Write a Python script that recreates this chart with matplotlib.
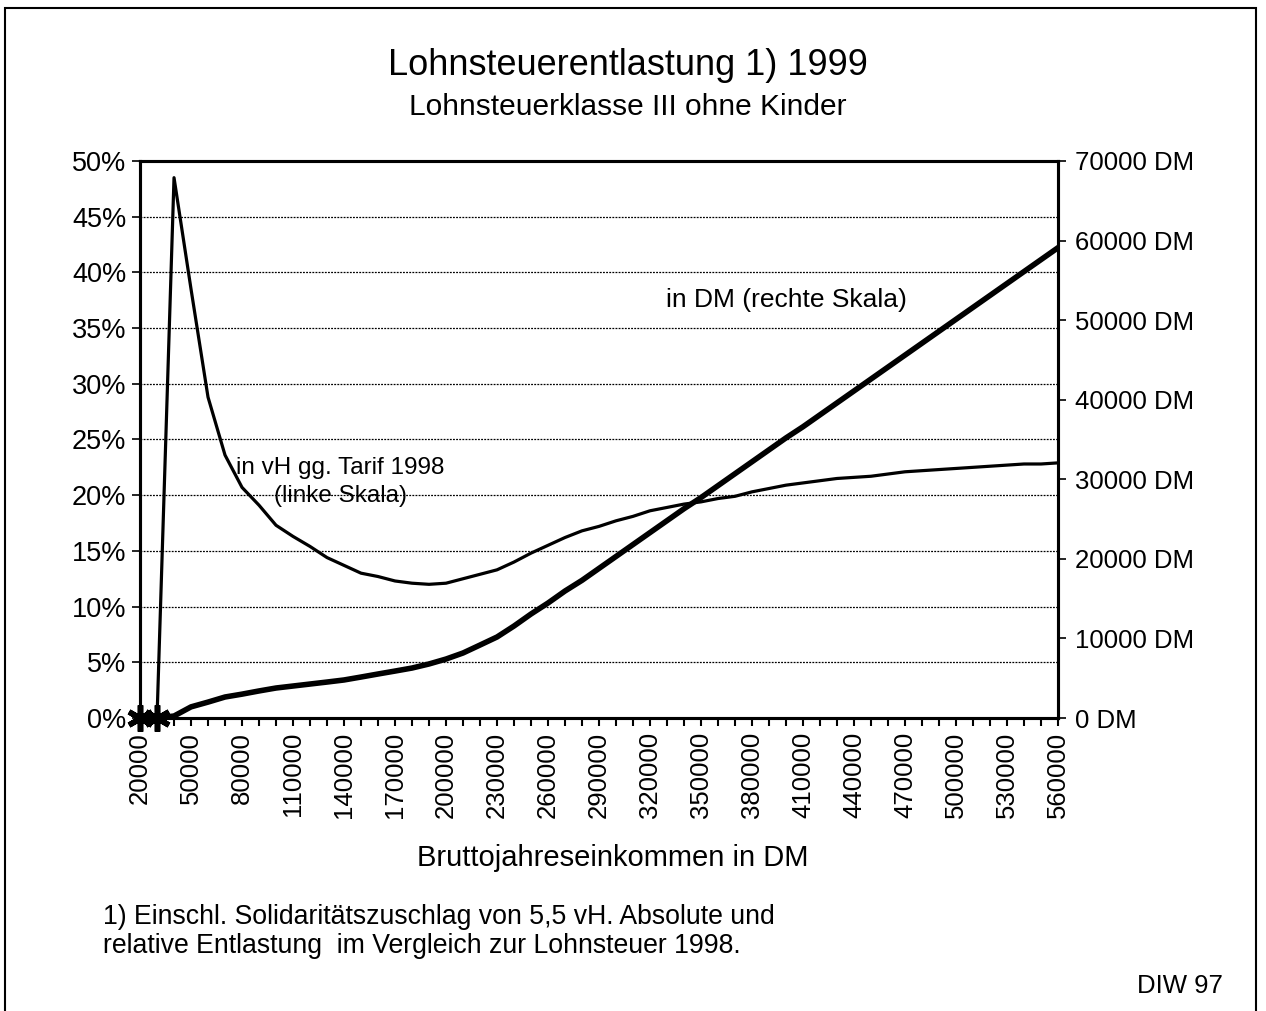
import matplotlib
matplotlib.use("Agg")
import matplotlib.pyplot as plt
from matplotlib.patches import Rectangle

plt.rcParams['font.family'] = ['Liberation Sans', 'DejaVu Sans']

# income steps of 10000 DM
einkommen = list(range(20000, 560001, 10000))

# relative relief in % (left scale)
entlastung_vh = [0, 0, 48.5, 38.5, 28.8, 23.6, 20.7, 19.1, 17.3, 16.3,
                 15.4, 14.4, 13.7, 13.0, 12.7, 12.3, 12.1, 12.0, 12.1, 12.5,
                 12.9, 13.3, 14.0, 14.8, 15.5, 16.2, 16.8, 17.2, 17.7, 18.1,
                 18.6, 18.9, 19.2, 19.4, 19.7, 19.9, 20.3, 20.6, 20.9, 21.1,
                 21.3, 21.5, 21.6, 21.7, 21.9, 22.1, 22.2, 22.3, 22.4, 22.5,
                 22.6, 22.7, 22.8, 22.8, 22.9]

# absolute relief in DM (right scale)
entlastung_dm = [0, 0, 250, 1400, 2000, 2640, 3000, 3400, 3770, 4020,
                 4270, 4520, 4780, 5150, 5530, 5900, 6280, 6790, 7410, 8170,
                 9170, 10180, 11560, 13070, 14450, 15960, 17300, 18800, 20300, 21800,
                 23300, 24800, 26300, 27700, 29200, 30700, 32200, 33700, 35200, 36600,
                 38100, 39600, 41100, 42600, 44100, 45600, 47100, 48600, 50100, 51600,
                 53100, 54600, 56100, 57600, 59100]

x_labels = list(range(20000, 560001, 30000))
pct_ticks = list(range(0, 51, 5))
dm_ticks = list(range(0, 70001, 10000))

fig = plt.figure(figsize=(12.66, 10.11), dpi=100)
ax = fig.add_axes([0.1106, 0.2898, 0.7251, 0.551])
ax2 = ax.twinx()

star = (6, 2, 0)
ax.plot(einkommen, entlastung_vh, color="black", lw=2.3, zorder=3)
ax2.plot(einkommen, entlastung_dm, color="black", lw=4, zorder=3)
# asterisk markers at the first two points
ax2.plot(einkommen[:2], entlastung_dm[:2], ls="none", marker=star, ms=19,
         mew=4, color="black", clip_on=False, zorder=5)

ax.set_xlim(20000, 560000)
ax.set_ylim(0, 50)
ax2.set_ylim(0, 70000)

ax.set_xticks(einkommen, minor=True)
ax.set_xticks(x_labels)
ax.set_xticklabels([str(v) for v in x_labels], rotation=90, fontsize=18.5)
ax.tick_params(axis='x', which='both', direction='out', length=6, width=1.5, pad=4)

ax.set_yticks(pct_ticks)
ax.set_yticklabels([f"{v}%" for v in pct_ticks], fontsize=19.5)
ax.tick_params(axis='y', direction='out', length=6, width=1.2, pad=4)
ax.yaxis.grid(True, linestyle=(0, (1.5, 1)), color="black", lw=0.9)
ax.set_axisbelow(True)

ax2.set_yticks(dm_ticks)
ax2.set_yticklabels([f"{v} DM" for v in dm_ticks], fontsize=18.5)
ax2.tick_params(axis='y', direction='out', length=6, width=1.2, pad=6)

for a in (ax, ax2):
    for s in a.spines.values():
        s.set_linewidth(2.2)

ax.text(138000, 21.2, "in vH gg. Tarif 1998\n(linke Skala)", fontsize=17.5,
        ha='center', va='center', linespacing=1.35)
ax.text(400000, 37.5, "in DM (rechte Skala)", fontsize=19, ha='center', va='center')

fig.text(0.496, 0.935, "Lohnsteuerentlastung 1) 1999", fontsize=26, ha='center', va='center')
fig.text(0.496, 0.894, "Lohnsteuerklasse III ohne Kinder", fontsize=21.5, ha='center', va='center')
fig.text(0.484, 0.151, "Bruttojahreseinkommen in DM", fontsize=21, ha='center', va='center')
fig.text(0.081, 0.079, "1) Einschl. Solidaritätszuschlag von 5,5 vH. Absolute und\n"
         "relative Entlastung  im Vergleich zur Lohnsteuer 1998.",
         fontsize=19.2, ha='left', va='center', linespacing=1.15)
fig.text(0.966, 0.025, "DIW 97", fontsize=18.5, ha='right', va='center')

fig.patches.append(Rectangle((0.004, -0.01), 0.988, 1.002, transform=fig.transFigure,
                             fill=False, edgecolor="black", lw=1.5))

fig.savefig("out.png", dpi=100)
